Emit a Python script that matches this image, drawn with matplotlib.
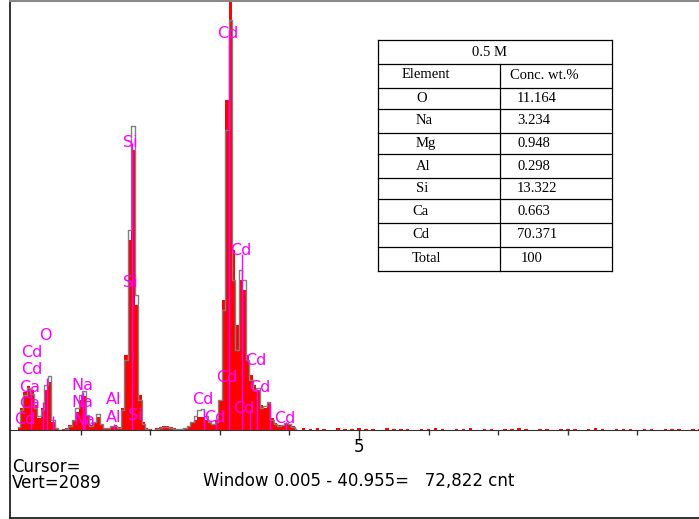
import numpy as np
import matplotlib
matplotlib.use('Agg')
from matplotlib import pyplot as plt
from matplotlib.lines import Line2D

plt.rcParams['font.family'] = ['DejaVu Sans']

# spectrum channels (keV) from 0.10 to 4.10, 0.05 keV wide
energy = np.round(np.arange(0.10, 4.101, 0.05), 2)

# gray outline spectrum (counts)
gray_counts = [15, 98, 171, 205, 176, 107, 68, 98, 220, 264,
               49, 10, 0, 0, 5, 20, 49, 107, 171, 190,
               73, 20, 39, 78, 29, 10, 10, 20, 20, 10,
               98, 342, 976, 1484, 659, 146, 29, 5, 0, 0,
               5, 10, 15, 15, 10, 5, 5, 5, 10, 20,
               39, 68, 98, 102, 68, 39, 29, 39, 146, 586,
               1464, 2001, 732, 390, 781, 732, 342, 244, 195, 205,
               107, 117, 137, 49, 29, 20, 24, 34, 29, 15, 5]

# red filled spectrum (counts)
red_counts = [15, 107, 185, 215, 195, 122, 59, 107, 195, 234,
              39, 5, 0, 5, 10, 24, 49, 88, 146, 166,
              68, 24, 39, 63, 29, 10, 10, 20, 24, 15,
              107, 366, 927, 1366, 610, 171, 39, 10, 5, 0,
              10, 15, 20, 20, 15, 10, 5, 5, 10, 20,
              34, 49, 63, 63, 49, 39, 29, 49, 146, 634,
              1610, 2300, 878, 512, 732, 683, 366, 268, 220, 195,
              122, 107, 137, 59, 34, 24, 24, 34, 29, 20, 10]

# background specks above 4.2 keV
tail_energy = np.round(np.arange(4.2, 9.91, 0.1), 1)
tail_counts = [8, 5, 10, 6, 0, 9, 7, 5, 12, 4,
               6, 0, 8, 5, 3, 7, 0, 6, 4, 9,
               5, 0, 6, 3, 8, 0, 5, 7, 0, 4,
               6, 10, 3, 0, 5, 6, 0, 4, 7, 3,
               0, 5, 8, 4, 0, 6, 3, 5, 0, 7,
               4, 0, 5, 3, 6, 0, 4, 5]

# element markers (keV, marker height in counts)
marker_e = [0.28, 0.46, 0.52, 0.60, 1.03, 1.06, 1.48, 1.74,
            2.77, 2.95, 3.13, 3.32, 3.44, 3.53, 3.72, 3.95]
marker_h = [190, 135, 255, 70, 185, 120, 30, 1400,
            100, 50, 1950, 860, 100, 200, 130, 40]

# element labels
label_txt = ['O', 'Cd', 'Cd', 'Ca', 'Ca', 'Cd', 'Na', 'Na', 'Na', 'Al', 'Al',
             'Si', 'Si', 'Si', 'Cd', 'Cd', 'Cd', 'Cd', 'Cd', 'Cd', 'Cd',
             'Cd', 'Cd']
label_x = [0.50, 0.30, 0.30, 0.27, 0.27, 0.20, 1.03, 1.03, 1.06, 1.48, 1.48,
           1.78, 1.71, 1.72, 3.12, 3.30, 3.51, 3.10, 3.58, 3.35, 3.94,
           2.76, 2.93]
label_y = [459, 376, 293, 205, 127, 49, 215, 132, 44, 151, 63,
           73, 722, 1401, 1937, 874, 337, 254, 205, 107, 54,
           151, 63]

# quantification table
elements = ['O', 'Na', 'Mg', 'Al', 'Si', 'Ca', 'Cd', 'Total']
conc = ['11.164', '3.234', '0.948', '0.298', '13.322', '0.663', '70.371', '100']

W, H = 699, 519
fig = plt.figure(figsize=(W / 100, H / 100), dpi=100)
ax = fig.add_axes([10 / W, (H - 430) / H, 1 - 10 / W, (430 - 2) / H])

ax.fill_between(energy, red_counts, step='mid', color='red', lw=0)
ax.bar(tail_energy, tail_counts, width=0.05, color='red', lw=0)
ax.step(energy, gray_counts, where='mid', color='#808080', lw=1)
ax.vlines(marker_e, 0, marker_h, color='#ff00ff', lw=1)
for t, x, y in zip(label_txt, label_x, label_y):
    ax.text(x, y, t, color='#ff00ff', fontsize=11.5, ha='center', va='center')

ax.set_xlim(-0.015, 9.885)
ax.set_ylim(0, 2089)
ax.set_xticks([5])
ax.set_xticklabels(['5'], fontsize=12)
ax.set_xticks([1, 2, 3, 4, 6, 7, 8, 9], minor=True)
ax.tick_params(axis='x', which='major', length=7, width=1, pad=-1.5, color='#333333')
ax.tick_params(axis='x', which='minor', length=3.5, width=1, color='#333333')
ax.set_yticks([])
for s in ['left', 'top', 'right']:
    ax.spines[s].set_visible(False)
ax.spines['bottom'].set_color('#333333')
ax.patch.set_alpha(0)

# overlay in pixel coordinates for frame, table and status text
ov = fig.add_axes([0, 0, 1, 1], zorder=5)
ov.set_xlim(0, W)
ov.set_ylim(H, 0)
ov.axis('off')
ov.patch.set_alpha(0)

ov.add_line(Line2D([10, 10], [1, 518], color='#222222', lw=1.3))
ov.add_line(Line2D([10, W], [1, 1], color='#888888', lw=1.5))
ov.add_line(Line2D([10, W], [517.5, 517.5], color='#222222', lw=1.3))

ov.text(12, 457.5, 'Cursor=\nVert=2089', fontsize=12, va='top', linespacing=0.86)
ov.text(203, 486, 'Window 0.005 - 40.955=   72,822 cnt', fontsize=12, va='baseline')

rows = [40, 64, 87.7, 109.3, 132.7, 154, 178.3, 199.3, 223.3, 246.7, 270.7]
tl, tr, tm = 378, 612, 499.5
for r in rows:
    ov.add_line(Line2D([tl, tr], [r, r], color='black', lw=0.9))
ov.add_line(Line2D([tl, tl], [rows[0], rows[-1]], color='black', lw=0.9))
ov.add_line(Line2D([tr, tr], [rows[0], rows[-1]], color='black', lw=0.9))
ov.add_line(Line2D([tm, tm], [rows[1], rows[-1]], color='black', lw=0.9))

tfont = dict(family='Liberation Serif', fontsize=10.5, va='center')
ov.text((tl + tr) / 2 - 6, (rows[0] + rows[1]) / 2, '0.5 M', ha='center', **tfont)
ov.text(426, (rows[1] + rows[2]) / 2 - 1.5, 'Element', ha='center', **tfont)
ov.text(544, (rows[1] + rows[2]) / 2, 'Conc. wt.%', ha='center', **tfont)
for i, (el, c) in enumerate(zip(elements, conc)):
    yc = (rows[i + 2] + rows[i + 3]) / 2
    xl = 416 if i < 5 else 412
    ov.text(xl, yc, el, ha='left', **tfont)
    ov.text(521 if c == '100' else 517, yc, c, ha='left', **tfont)

fig.savefig('out.png', dpi=100)
